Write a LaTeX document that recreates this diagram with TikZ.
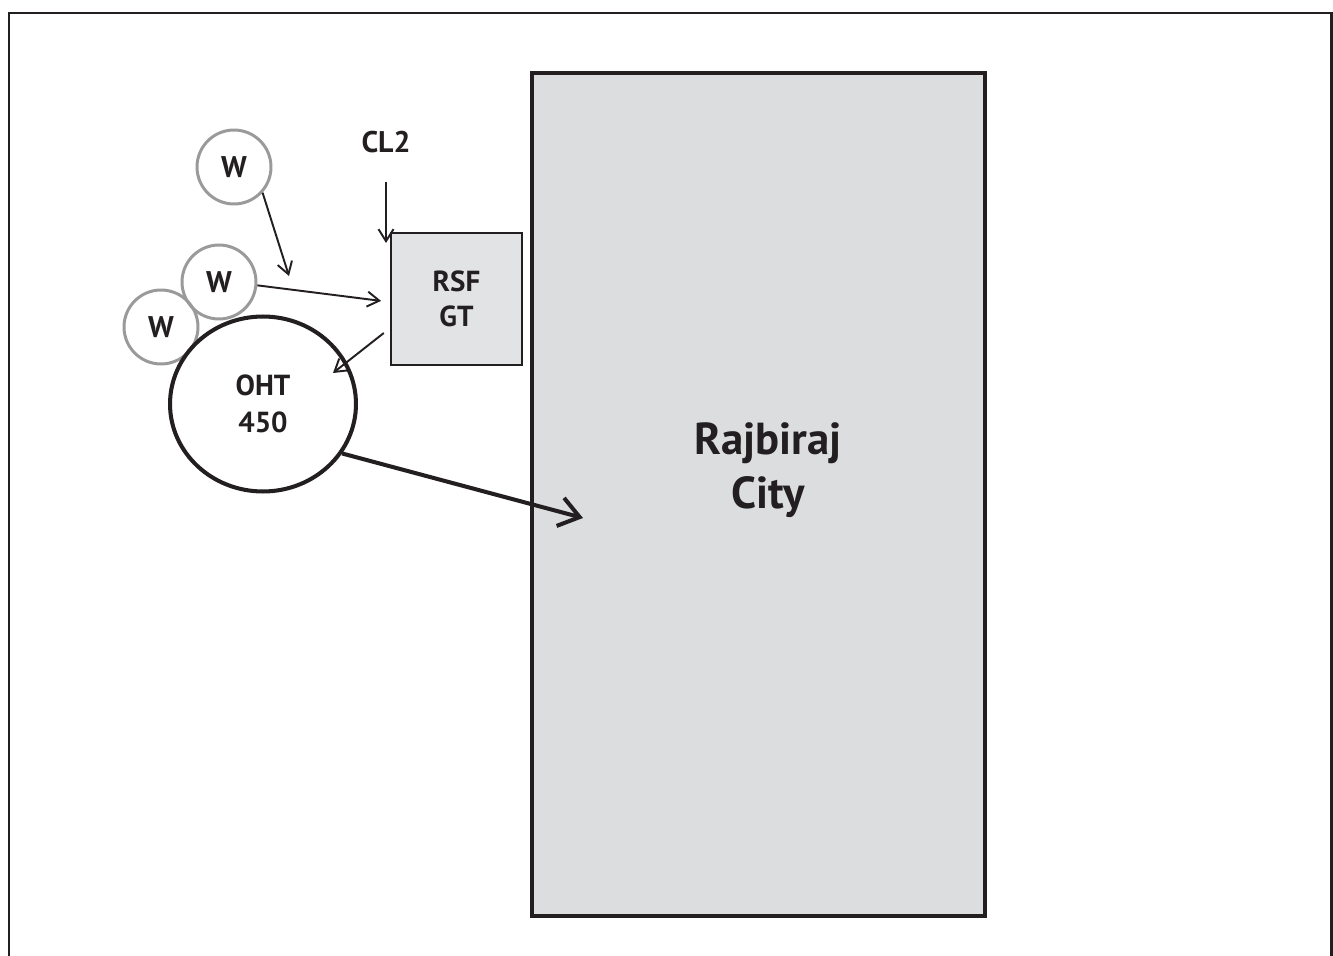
\documentclass[tikz,border=0pt]{standalone}
\usepackage{fontspec}
\setmainfont{PT Sans}
\usepackage{xcolor}
\usepackage{tikz}
\usetikzlibrary{shapes.geometric, arrows.meta, positioning, calc}
\definecolor{citygray}{HTML}{DCDDDF}
\definecolor{boxgray}{HTML}{E2E3E5}
\definecolor{wellgray}{HTML}{9A9A9A}
\definecolor{inkblack}{HTML}{231F20}
\tikzset{
    well/.style={circle, minimum size=1.48cm, inner sep=0pt, draw=wellgray, line width=1.7pt, text=inkblack, font=\fontsize{17}{19}\selectfont\bfseries},
    tank/.style={ellipse, minimum width=3.72cm, minimum height=3.5cm, inner sep=0pt, draw=inkblack, line width=2.3pt, align=center, text=inkblack, font=\fontsize{16.5}{21}\selectfont\bfseries},
    plant/.style={rectangle, minimum width=2.62cm, minimum height=2.64cm, inner sep=0pt, draw=inkblack, fill=boxgray, line width=1.4pt, align=center, text=inkblack, font=\fontsize{16.5}{20}\selectfont\bfseries},
    city/.style={rectangle, minimum width=9.06cm, minimum height=16.86cm, draw=inkblack, fill=citygray, line width=2.3pt},
    label/.style={text=inkblack, align=center, font=\fontsize{17}{19}\selectfont\bfseries},
    arrow/.style={line width=1.1pt, draw=inkblack, -{Straight Barb[length=2.4mm, width=3mm]}},
    bigarrow/.style={line width=2.3pt, draw=inkblack, -{Straight Barb[length=4mm, width=5.8mm]}}
}
\begin{document}
\begin{tikzpicture}[x=0.02cm, y=-0.02cm]
    \useasboundingbox (0,0) rectangle (1333,956);
    % Frame
    \draw[inkblack, line width=1.7pt] (9,960) -- (9,13) -- (1331,13) -- (1331,960);

    % City
    \node (city) [city] at (758.5,494.5) {};
    \node (cityname) [text=inkblack, align=center, font=\fontsize{25.5}{31}\selectfont\bfseries] at (768,470) {Rajbiraj\\City};

    % Treatment
    \node (rsf) [plant] at (456.5,299) {RSF\\GT};
    \node (cl2) [label] at (386,142) {CL2};

    % Wells
    \node (w1) [well] at (234,167) {W};
    \node (w2) [well] at (219,282) {W};
    \node (w3) [well] at (161,327) {W};

    % Tank
    \node (oht) [tank] at (263,404) {OHT\\450};

    % Free ends
    \coordinate (w1end) at (289,276);
    \coordinate (cl2end) at (386,243);
    \coordinate (cityin) at (583,518);

    % Edges
    \draw [arrow] (w1.-42) -- (w1end);
    \draw [arrow, shorten >=5pt] (w2.-5) -- (rsf.west |- 0,302);
    \draw [arrow, shorten <=13pt] (cl2.south) -- (cl2end);
    \draw [arrow] ($(rsf.west)+(-6,34)$) -- ($(oht)+(70,-31)$);
    \draw [bigarrow] (oht.-32) -- (cityin);
\end{tikzpicture}
\end{document}
